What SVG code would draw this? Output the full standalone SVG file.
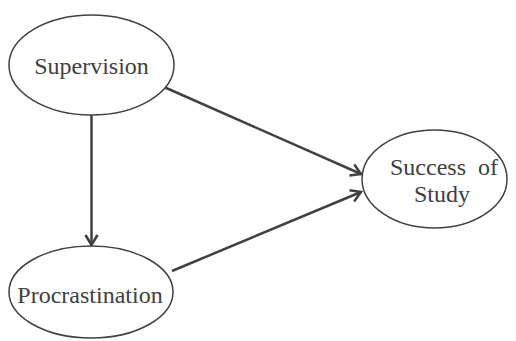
<svg xmlns="http://www.w3.org/2000/svg" width="516" height="341" viewBox="0 0 516 341">
<style>
.node ellipse{fill:#fff;stroke:#404040;stroke-width:1.5}
.node text{font-family:'Times New Roman','Liberation Serif',Times,'DejaVu Serif',serif;font-size:24px;fill:#404040;text-anchor:middle}
.edge{stroke:#404040;stroke-width:2.5;fill:none;marker-end:url(#arr)}
</style>
<defs>
<marker id="arr" markerUnits="userSpaceOnUse" markerWidth="16" markerHeight="16" refX="12" refY="8" orient="auto">
<path d="M2,2 L12,8 L2,14" fill="none" stroke="#404040" stroke-width="2.5" stroke-linejoin="miter"/>
</marker>
</defs>
<rect width="516" height="341" fill="#fff"/>
<g id="connectors">
<line class="edge" x1="91.5" y1="115" x2="91.5" y2="245"/>
<line class="edge" x1="164" y1="87" x2="361" y2="174"/>
<line class="edge" x1="172" y1="271" x2="361" y2="192"/>
</g>
<g id="supervision" class="node">
<ellipse cx="91.5" cy="65" rx="82.5" ry="50"/>
<text x="91.5" y="74">Supervision</text>
</g>
<g id="success" class="node">
<ellipse cx="434.5" cy="179" rx="72.5" ry="49"/>
<text x="444" y="175" word-spacing="6">Success of</text>
<text x="442" y="202">Study</text>
</g>
<g id="procrastination" class="node">
<ellipse cx="91" cy="292" rx="82" ry="46"/>
<text x="90" y="303">Procrastination</text>
</g>
</svg>
